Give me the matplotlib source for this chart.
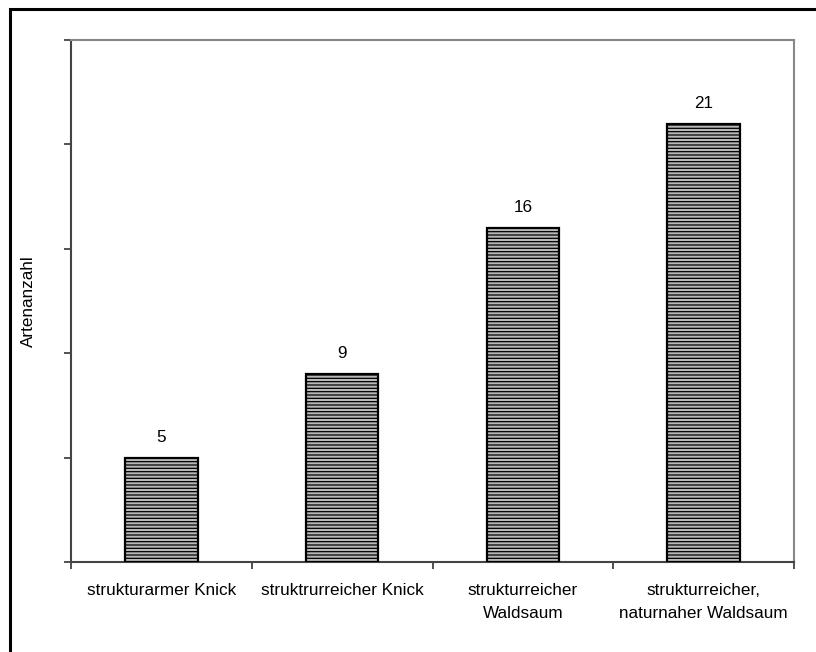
import matplotlib
matplotlib.use("Agg")
import matplotlib.pyplot as plt
from matplotlib.patches import Rectangle

plt.rcParams['font.family'] = ['Liberation Sans', 'DejaVu Sans']
plt.rcParams['hatch.linewidth'] = 0.9

categories = ["strukturarmer Knick", "struktrurreicher Knick",
              "strukturreicher\nWaldsaum", "strukturreicher,\nnaturnaher Waldsaum"]
values = [5, 9, 16, 21]
y_max = 25
y_step = 5

W, H = 816, 652
fig = plt.figure(figsize=(W / 100, H / 100), dpi=100)

# outer frame of the chart object
fig.patches.append(Rectangle((10 / W, -0.1), 1.2, 1 - 9 / H + 0.1,
                             transform=fig.transFigure, fill=False,
                             edgecolor='black', linewidth=2.2))

ax = fig.add_axes([71 / W, 1 - 562 / H, (794 - 71) / W, (562 - 40) / H])
x = list(range(len(categories)))
bars = ax.bar(x, values, width=0.4, facecolor='#b8b8b8', edgecolor='black',
              linewidth=1.6, hatch='-----', zorder=3)

fs = 12.3
for xi, v in zip(x, values):
    ax.annotate(str(v), (xi, v), xytext=(0, 14.5), textcoords='offset points',
                ha='center', va='center', fontsize=fs)

ax.set_xlim(-0.5, len(categories) - 0.5)
ax.set_ylim(0, y_max)
ax.set_yticks(range(0, y_max + 1, y_step))
ax.set_yticklabels([])
ax.set_xticks([i + 0.5 for i in range(-1, len(categories))], minor=False)
ax.set_xticklabels([])
ax.set_xticks(x, minor=True)
ax.set_xticklabels(categories, minor=True, fontsize=fs, linespacing=1.65)
ax.tick_params(axis='x', which='minor', length=0, pad=15)
ax.tick_params(axis='x', which='major', length=5, width=1.2, color='#333333', direction='out')
ax.tick_params(axis='y', length=5, width=1.2, color='#333333', direction='out')

ax.spines['left'].set_color('#444444')
ax.spines['left'].set_linewidth(1.5)
ax.spines['bottom'].set_color('#444444')
ax.spines['bottom'].set_linewidth(1.5)
ax.spines['top'].set_color('#888888')
ax.spines['top'].set_linewidth(1.5)
ax.spines['right'].set_color('#888888')
ax.spines['right'].set_linewidth(1.5)

ax.set_ylabel("Artenanzahl", fontsize=fs, labelpad=17)

fig.savefig("out.png", dpi=100)
